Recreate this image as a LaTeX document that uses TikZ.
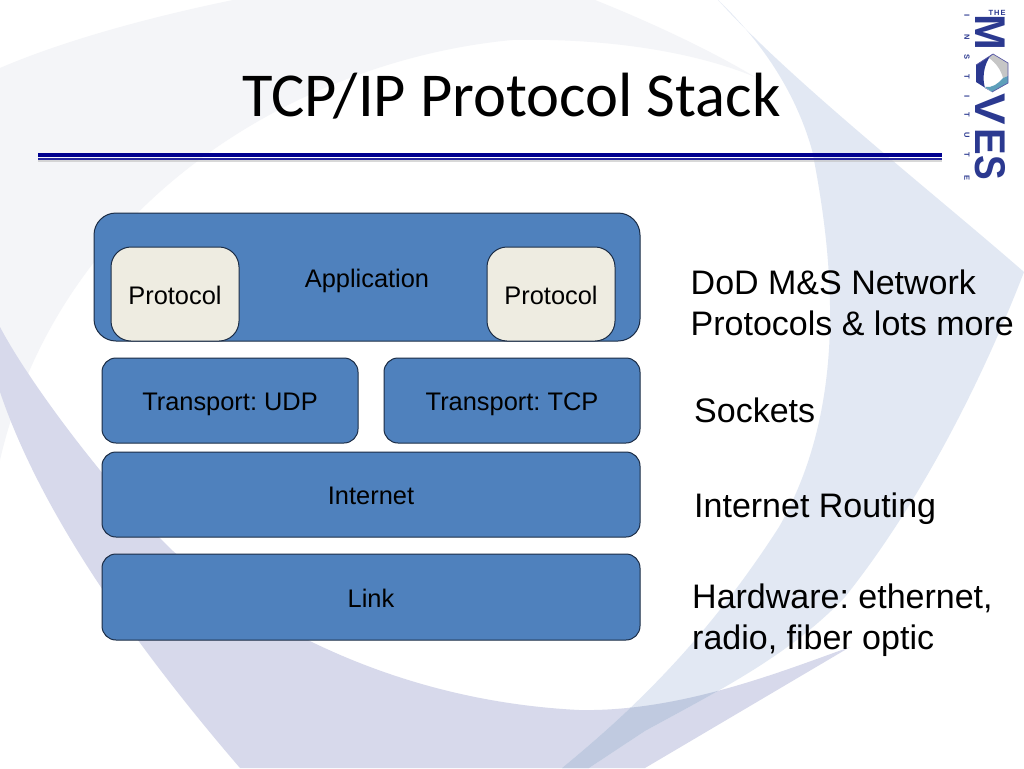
\documentclass[tikz,border=0pt]{standalone}
\usepackage{fontspec}
\setmainfont{Liberation Sans}
\newfontfamily\titlefont{Carlito}
\frenchspacing
\definecolor{gswoosh}{HTML}{F4F5F8}
\definecolor{lav}{HTML}{D7D9EB}
\definecolor{paleblue}{HTML}{E2E8F3}
\definecolor{overlapc}{HTML}{C0CAE0}
\definecolor{boxblue}{HTML}{4F81BD}
\definecolor{boxedge}{HTML}{1B2C45}
\definecolor{protofill}{HTML}{EEECE1}
\definecolor{rulenavy}{HTML}{00008F}
\definecolor{logonavy}{HTML}{2B3990}
\newcommand{\pxfont}[2]{\fontsize{#1}{#2}\selectfont}
\tikzset{
  x=1pt,y=-1pt,
  layerbox/.style={draw=boxedge,line width=1pt,fill=boxblue,rounded corners=14pt,inner sep=0pt,
    font=\pxfont{25.4}{28},text height=22pt,text depth=1.5pt,anchor=center},
  protobox/.style={layerbox,fill=protofill,rounded corners=20pt},
  sidetext/.style={anchor=west,align=left,inner sep=0pt,font=\pxfont{34}{41}},
  logobig/.style={text=logonavy,font=\bfseries\pxfont{43}{43},inner sep=0pt,rotate=-90,transform shape},
  logosmall/.style={text=logonavy,font=\bfseries\pxfont{7.5}{8},inner sep=0pt,rotate=-90},
}
\begin{document}
\begin{tikzpicture}
\useasboundingbox (0,0) rectangle (1024,768);
\fill[white] (0,0) rectangle (1024,768);
% background swooshes
\fill[gswoosh] (0,68) .. controls (70,38) and (160,15) .. (233,0) -- (595,0)
  .. controls (650,22) and (710,50) .. (755,77)
  .. controls (690,50) and (600,38) .. (512,40)
  .. controls (300,60) and (60,200) .. (0,460) -- cycle;
\def\lavpath{(0,327) .. controls (30,384) and (110,490) .. (173,551)
  .. controls (240,610) and (380,700) .. (579,710)
  .. controls (680,712) and (780,672) .. (850,647)
  -- (645,768) -- (240,768)
  .. controls (130,640) and (40,510) .. (0,392) -- cycle}
\def\bluepath{(718,0) .. controls (790,80) and (930,190) .. (1024,272)
  .. controls (990,360) and (930,490) .. (845,597)
  .. controls (790,655) and (720,690) .. (645,731) -- (589,768) -- (562,768)
  .. controls (620,720) and (700,650) .. (779,527)
  .. controls (840,420) and (840,290) .. (812,150)
  .. controls (795,90) and (760,40) .. (718,0) -- cycle}
\fill[lav] \lavpath;
\fill[paleblue] \bluepath;
\begin{scope}
  \clip \bluepath;
  \fill[overlapc] \lavpath;
\end{scope}
% title
\node (title) at (511.5,96.5) [inner sep=0pt,anchor=center,font=\titlefont\pxfont{62.5}{64}] {TCP/IP Protocol Stack};
% rule
\coordinate (ruleL) at (38,155);
\coordinate (ruleR) at (942,155);
\draw[line width=4pt,black!25,opacity=.6] ([yshift=-5pt]ruleL) -- ([yshift=-5pt]ruleR);
\draw[line width=1.8pt,rulenavy!85] ([yshift=-3.7pt]ruleL) -- ([yshift=-3.7pt]ruleR);
\draw[line width=4.6pt,rulenavy] (ruleL) -- (ruleR);
% layers
\node (app) [layerbox,rounded corners=22pt,minimum width=546pt,minimum height=128pt] at (367,277) {Application};
\node (protoL) [protobox,minimum width=128pt,minimum height=94pt] at (175,294) {Protocol};
\node (protoR) [protobox,minimum width=128pt,minimum height=94pt] at (551,294) {Protocol};
\node (udp) [layerbox,minimum width=256pt,minimum height=85pt] at (230,400.5) {Transport: UDP};
\node (tcp) [layerbox,minimum width=256pt,minimum height=85pt] at (512,400.5) {Transport: TCP};
\node (inet) [layerbox,minimum width=538pt,minimum height=85pt] at (371,494.5) {Internet};
\node (link) [layerbox,minimum width=538pt,minimum height=86pt] at (371,597) {Link};
% side texts
\node (s1) [sidetext] at (690.5,303) {DoD M\&S Network\\Protocols \& lots more};
\node (s2) [sidetext] at (694,410.5) {Sockets};
\node (s3) [sidetext] at (694,508.5) {Internet Routing};
\node (s4) [sidetext] at (692,620) {Hardware: ethernet,\\radio, fiber optic};
% logo
\node (lgthe) at (997,13) [text=logonavy,font=\bfseries\pxfont{7.5}{8},inner sep=0pt] {T\kern1pt H\kern1pt E};
\node (lgM) at (990.5,32.5) [logobig] {M};
\node (lgV) at (990.5,109) [logobig,xscale=1.1] {V};
\node (lgE) at (990.5,141.5) [logobig,xscale=.93] {E};
\node (lgS) at (990.5,167.5) [logobig,xscale=.86] {S};
\foreach \ch/\yy [count=\i] in {I/16,N/37,S/57,T/77,I/97,T/115,U/135,T/155,E/178}
  \node (lgi\i) at (967,\yy) [logosmall] {\ch};
% logo hexagon
\fill[logonavy] (976,65) -- (993,54) -- (989,58) .. controls (984,66) and (982,78) .. (985,88) -- (992,92) -- (976,82) -- cycle;
\fill[gray!45!white] (993,54) -- (1008,63) -- (1008,76) -- (1003,78) .. controls (1001,70) and (996,63) .. (989,58) -- cycle;
\fill[blue!30!cyan!40!gray!90] (1008,76) -- (1008,83) -- (992,92) -- (985,87) .. controls (992,88) and (998,84) .. (1003,78) -- cycle;
\draw[gray!70!blue,line width=.7pt] (976,65) -- (993,54) -- (1008,63) -- (1008,83) -- (992,92);
\end{tikzpicture}
\end{document}
